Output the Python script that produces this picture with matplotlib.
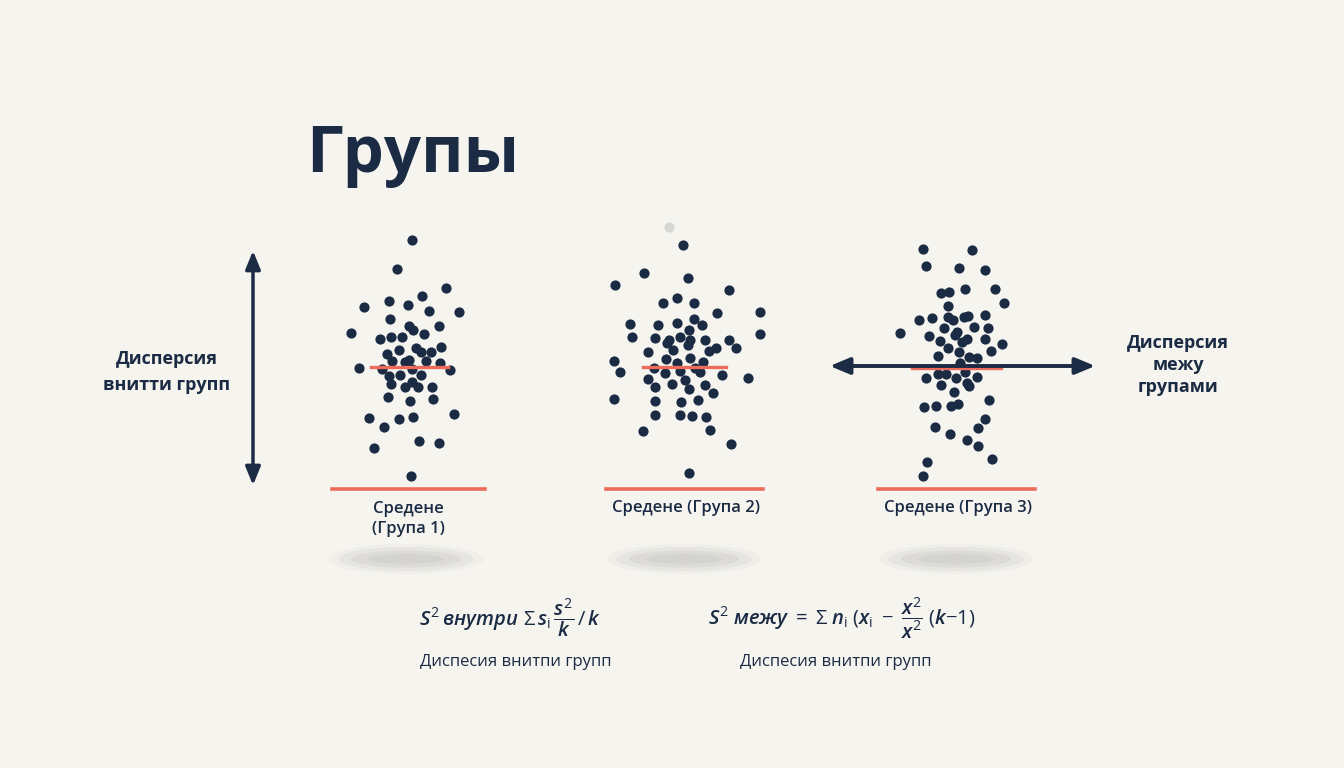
import matplotlib.pyplot as plt
from matplotlib.patches import Ellipse

plt.rcParams['font.family'] = ['Open Sans', 'DejaVu Sans']
plt.rcParams['mathtext.fontset'] = 'custom'
plt.rcParams['mathtext.rm'] = 'Open Sans'
plt.rcParams['mathtext.it'] = 'Open Sans:italic:semibold'
plt.rcParams['mathtext.bf'] = 'Open Sans:bold'

NAVY = '#1b2b44'
RED = '#ee6a5a'
BG = '#f5f4ef'

# canvas units (width 1344, height 768, y grows downwards)
g1_x = [412, 397, 446, 422, 389, 364, 408, 429, 459, 390, 409, 413, 439, 351, 424, 380, 391, 402,
        441, 416, 421, 431, 399, 387, 392, 405, 409, 426, 440, 359, 382, 412, 450, 389, 400, 421,
        391, 412, 405, 418, 432, 388, 410, 433, 369, 399, 413, 454, 384, 374, 419, 439, 411]
g1_y = [240, 269, 288, 296, 301, 307, 305, 311, 312, 319, 326, 330, 326, 333, 334, 339, 337, 337,
        347, 348, 352, 352, 350, 354, 361, 362, 360, 361, 363, 368, 369, 369, 370, 376, 375, 375,
        384, 382, 387, 387, 387, 397, 401, 399, 418, 419, 417, 414, 427, 448, 441, 443, 476]

g2_x = [683, 644, 688, 615, 729, 663, 677, 694, 717, 760, 630, 658, 677, 694, 702, 689, 760, 632,
        655, 680, 669, 667, 690, 688, 705, 729, 673, 709, 716, 736, 648, 614, 666, 690, 677, 703,
        620, 654, 665, 680, 695, 700, 722, 748, 648, 655, 672, 685, 689, 705, 713, 614, 655, 681,
        698, 655, 680, 692, 706, 643, 710, 731, 689]
g2_y = [245, 273, 278, 285, 290, 303, 298, 303, 313, 312, 324, 325, 323, 319, 325, 330, 334, 337,
        338, 337, 340, 343, 340, 345, 340, 340, 350, 351, 348, 348, 352, 361, 359, 358, 363, 362,
        372, 368, 373, 371, 368, 372, 375, 378, 379, 387, 384, 380, 389, 385, 393, 399, 401, 402,
        400, 415, 415, 416, 417, 431, 430, 444, 473]
faint_x, faint_y = [669], [227]

g3_x = [923, 972, 926, 959, 985, 941, 949, 965, 995, 1004, 948, 919, 932, 948, 953, 964, 968, 985,
        900, 929, 944, 957, 955, 974, 988, 940, 962, 967, 985, 1002, 948, 959, 991, 938, 969, 977,
        960, 926, 938, 946, 956, 965, 977, 941, 967, 969, 954, 924, 936, 951, 958, 989, 985, 935,
        978, 950, 967, 978, 992, 927, 923]
g3_y = [249, 250, 266, 268, 270, 293, 292, 289, 289, 303, 306, 320, 318, 317, 320, 317, 316, 315,
        333, 336, 328, 332, 335, 327, 328, 341, 342, 339, 339, 344, 348, 352, 351, 356, 357, 358,
        363, 378, 374, 374, 378, 372, 377, 385, 383, 386, 392, 407, 406, 406, 404, 400, 419, 427,
        428, 434, 440, 446, 459, 462, 476]

group_labels = ['Средене\n(Група 1)', 'Средене (Група 2)', 'Средене (Група 3)']
group_center = [408, 686, 958]
mean_y = [367, 367, 368]
mean_span = [(371, 448), (643, 726), (912, 1001)]
base_span = [(332, 485), (606, 763), (878, 1035)]
base_y = 489

fig = plt.figure(figsize=(13.44, 7.68), dpi=100)
fig.patch.set_facecolor(BG)
ax = fig.add_axes([0, 0, 1, 1])
ax.set_xlim(0, 1344)
ax.set_ylim(768, 0)
ax.axis('off')
ax.set_facecolor(BG)

# soft shadows under each group
for cx in group_center:
    for w, h, a in [(155, 30, 0.06), (135, 24, 0.09), (110, 17, 0.11), (75, 10, 0.1)]:
        ax.add_patch(Ellipse((cx - 2, 559), w, h, color='#8f8f8f', alpha=a, lw=0))

# dots
for xs, ys in [(g1_x, g1_y), (g2_x, g2_y), (g3_x, g3_y)]:
    ax.scatter(xs, ys, s=54, color=NAVY, zorder=3, lw=0)
ax.scatter(faint_x, faint_y, s=54, color='#d6d6d4', zorder=3, lw=0)

# mean lines and base lines
for (x0, x1), my in zip(mean_span, mean_y):
    ax.plot([x0, x1], [my, my], color=RED, lw=2.4, zorder=4)
for x0, x1 in base_span:
    ax.plot([x0, x1], [base_y, base_y], color=RED, lw=2.6, zorder=2)

# group labels
ax.text(group_center[0], 519, group_labels[0], ha='center', va='center', fontsize=12,
        color=NAVY, fontweight='semibold', linespacing=1.35)
for cx, lab in zip(group_center[1:], group_labels[1:]):
    ax.text(cx, 508, lab, ha='center', va='center', fontsize=12, color=NAVY,
            fontweight='semibold')

# arrows
ax.annotate('', xy=(253, 248), xytext=(253, 488),
            arrowprops=dict(arrowstyle='<|-|>,head_length=1.1,head_width=0.45', color=NAVY, lw=2.5))
ax.annotate('', xy=(827, 366), xytext=(1098, 366),
            arrowprops=dict(arrowstyle='<|-|>,head_length=1.2,head_width=0.5', color=NAVY, lw=2.8),
            zorder=5)

# title and side texts
ax.text(413, 155, 'Групы', ha='center', va='center', fontsize=47, fontweight='bold', color=NAVY)
ax.text(167, 372, 'Дисперсия\nвнитти групп', ha='center', va='center', fontsize=13,
        fontweight='bold', color=NAVY, linespacing=1.5)
ax.text(1178, 365, 'Дисперсия\nмежу\nгрупами', ha='center', va='center', fontsize=13,
        fontweight='bold', color=NAVY, linespacing=1.3)

# formulas
ax.text(419, 618, r'$S^2\,внутри\ \Sigma\, s_\mathrm{i}\,\dfrac{s^2}{k}\,/\,k$', ha='left', va='center',
        fontsize=14.5, color=NAVY)
ax.text(708, 618,
        r'$S^2\;межу\;=\;\Sigma\; n_\mathrm{i}\;(x_\mathrm{i}\;-\;\dfrac{x^2}{x^2}\;(k{-}1)$',
        ha='left', va='center', fontsize=14.5, color=NAVY)
ax.text(516, 662, 'Диспесия внитпи групп', ha='center', va='center', fontsize=12, color=NAVY)
ax.text(836, 662, 'Диспесия внитпи групп', ha='center', va='center', fontsize=12, color=NAVY)

fig.savefig('out.png', dpi=100, facecolor=BG)
